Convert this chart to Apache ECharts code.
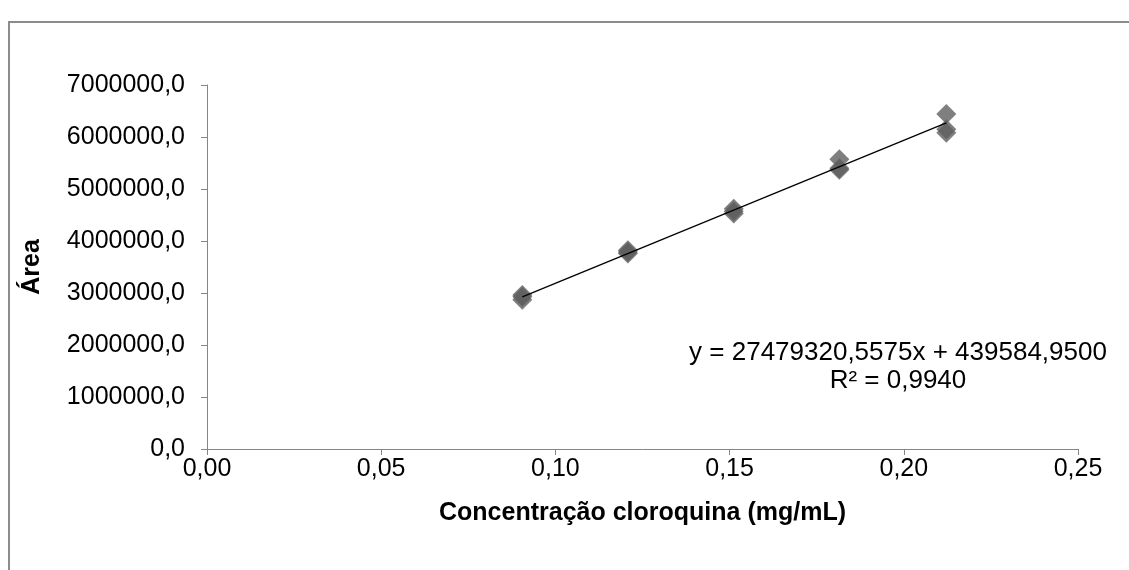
<!DOCTYPE html>
<html>
<head>
<meta charset="utf-8">
<script src="https://cdn.jsdelivr.net/npm/echarts@6/dist/echarts.min.js"></script>
<style>html,body{margin:0;padding:0;background:#fff;}#c{width:1129px;height:570px;}</style>
</head>
<body>
<div id="c"></div>
<script>
// Concentration (mg/mL) and peak area, triplicates
const concX = [0.0905, 0.0905, 0.0905, 0.1208, 0.1208, 0.1208, 0.1512, 0.1512, 0.1512, 0.1815, 0.1815, 0.1815, 0.2122, 0.2122, 0.2122];
const areaY = [2870000, 2930000, 2960000, 3760000, 3790000, 3820000, 4530000, 4570000, 4620000, 5370000, 5400000, 5570000, 6080000, 6150000, 6440000];
// Linear fit as printed on the chart
const slope = 27479320.5575;
const intercept = 439584.9500;
const eqText = 'y = 27479320,5575x + 439584,9500';
const r2Text = 'R² = 0,9940';
const xTitle = 'Concentração cloroquina (mg/mL)';
const yTitle = 'Área';

const xMin = Math.min(...concX), xMax = Math.max(...concX);
const trend = [[xMin, slope * xMin + intercept], [xMax, slope * xMax + intercept]];
const pts = concX.map((x, i) => [x, areaY[i]]);

const FONT = 'Liberation Sans, Arial, sans-serif';
const FS = 25;
const chart = echarts.init(document.getElementById('c'), null, {renderer: 'canvas'});
chart.setOption({
  backgroundColor: '#fff',
  animation: false,
  grid: {left: 207, right: 51, top: 85, bottom: 121, containLabel: false},
  xAxis: {
    type: 'value', min: 0, max: 0.25, interval: 0.05,
    name: xTitle, nameLocation: 'middle', nameGap: 52,
    nameTextStyle: {fontFamily: FONT, fontSize: FS, fontWeight: 'bold', color: '#000'},
    axisLine: {lineStyle: {color: '#868686', width: 1}},
    axisTick: {show: true, inside: false, length: 6, lineStyle: {color: '#868686'}},
    axisLabel: {fontFamily: FONT, fontSize: FS, color: '#000', margin: 8,
      formatter: v => v.toFixed(2).replace('.', ',')},
    splitLine: {show: false}
  },
  yAxis: {
    type: 'value', min: 0, max: 7000000, interval: 1000000,
    name: yTitle, nameLocation: 'middle', nameGap: 162, nameRotate: 90,
    nameTextStyle: {fontFamily: FONT, fontSize: FS, fontWeight: 'bold', color: '#000'},
    axisLine: {show: true, lineStyle: {color: '#868686', width: 1}},
    axisTick: {show: true, inside: false, length: 6, lineStyle: {color: '#868686'}},
    axisLabel: {fontFamily: FONT, fontSize: FS, color: '#000', margin: 22,
      formatter: v => v.toFixed(1).replace('.', ',')},
    splitLine: {show: false}
  },
  series: [
    {type: 'scatter', data: pts, symbol: 'diamond', symbolSize: 20,
     itemStyle: {color: '#5f5f5f'}, z: 2},
    {type: 'line', data: trend, showSymbol: false, symbol: 'none',
     lineStyle: {color: '#000', width: 1.3}, z: 3}
  ],
  graphic: [
    {type: 'rect', shape: {x: 9, y: 22, width: 1200, height: 700},
     style: {fill: 'none', stroke: '#8c8c8c', lineWidth: 2}, silent: true},
    {type: 'text', x: 898, y: 353, style: {text: eqText, font: '26px ' + FONT, fill: '#000', textAlign: 'center', textVerticalAlign: 'middle'}},
    {type: 'text', x: 898, y: 381, style: {text: r2Text, font: '26px ' + FONT, fill: '#000', textAlign: 'center', textVerticalAlign: 'middle'}}
  ]
});
</script>
</body>
</html>
